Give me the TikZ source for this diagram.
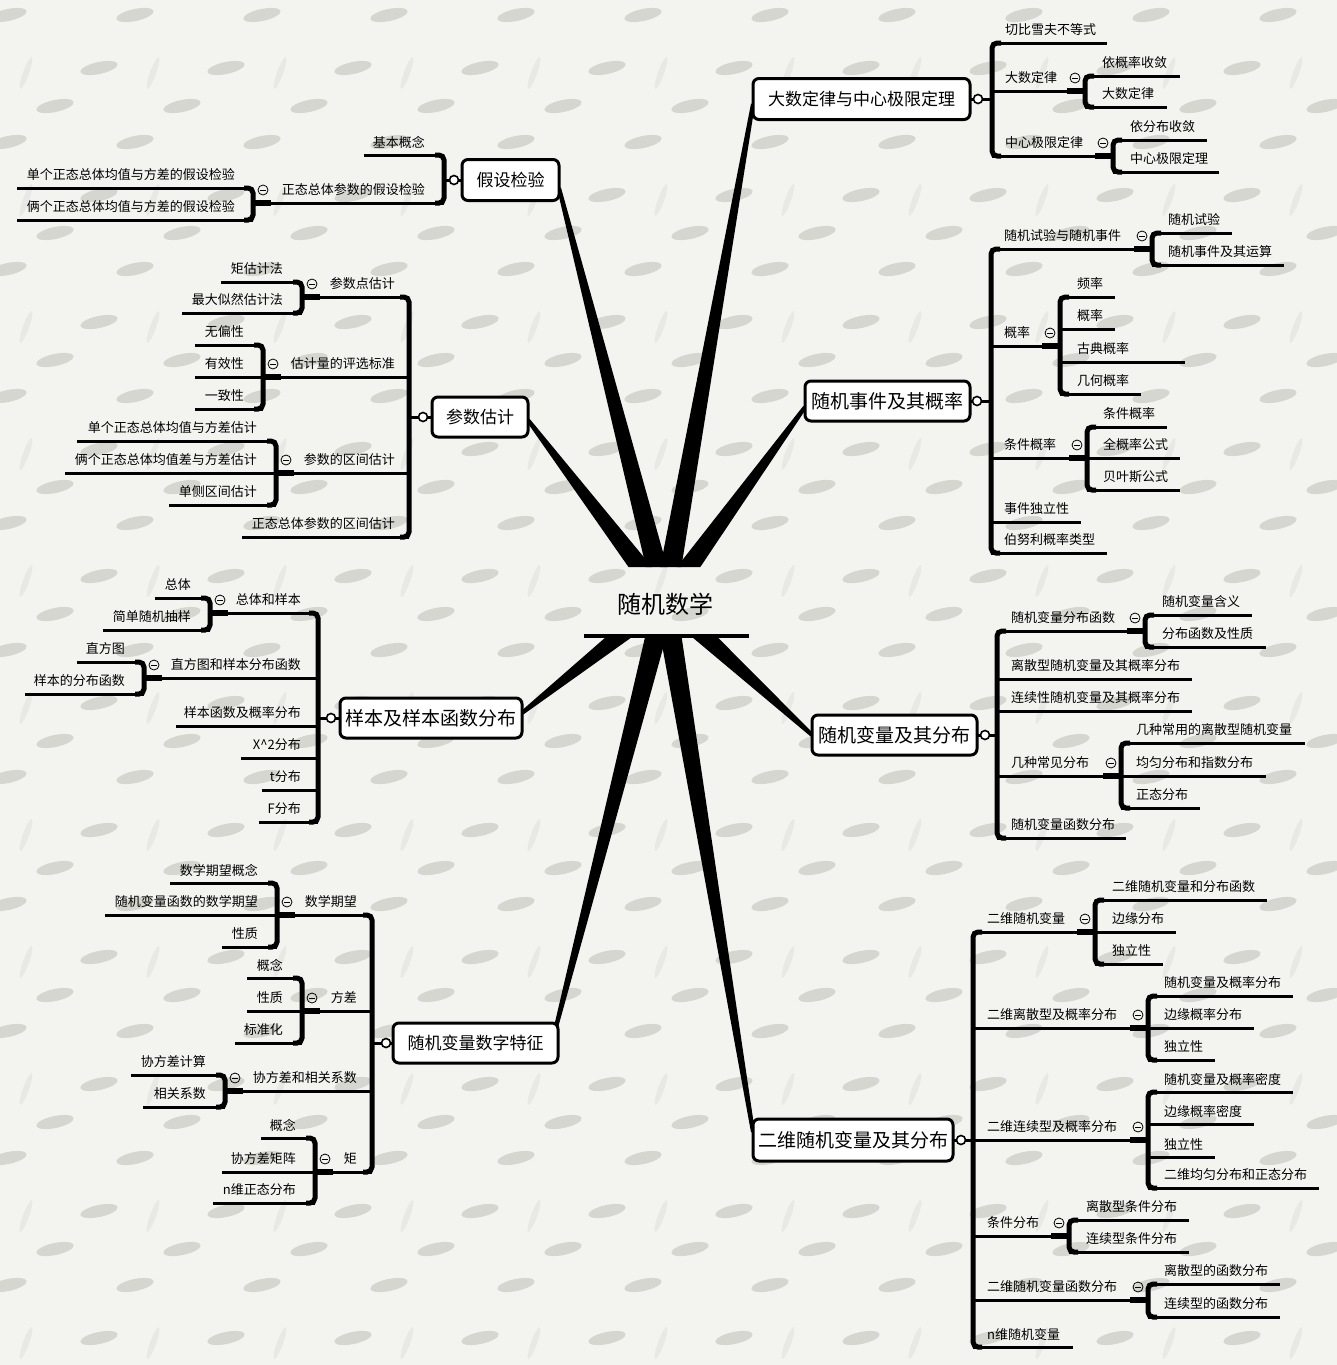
\documentclass[tikz,border=0pt]{standalone}
\usepackage{fontspec}
\setmainfont{Noto Sans CJK SC}
\usetikzlibrary{calc}
\definecolor{bg}{RGB}{243,243,240}
\definecolor{pat}{RGB}{214,214,208}
\definecolor{patb}{RGB}{232,232,228}
\tikzset{
  ln/.style={line width=3pt},
  brk/.style={line width=5pt, rounded corners=5pt},
  stb/.style={line width=6pt},
  lbl/.style={inner sep=0pt, font=\fontsize{13}{13}\selectfont},
  mainbox/.style={draw, line width=3pt, rounded corners=6pt, fill=white, inner sep=0pt},
  mcirc/.style={circle, draw, line width=1.6pt, fill=white, minimum size=9pt, inner sep=0pt},
  foldc/.style={circle, draw, line width=0.8pt, minimum size=10pt, inner sep=0pt,
    path picture={\draw[line width=0.8pt] ([xshift=-2.6pt]path picture bounding box.center) -- ([xshift=2.6pt]path picture bounding box.center);}},
}
% right-hand topic: name, bracket x, text offset, line y, line end, text
\newcommand\ri[6]{\draw[ln] (#2,#4) -- (#5,#4); \node[lbl,anchor=west] (#1) at (#2+#3,#4-13) {#6};}
% left-hand topic: name, bracket x, text offset, line y, line start, text
\newcommand\li[6]{\draw[ln] (#5,#4) -- (#2,#4); \node[lbl,anchor=east] (#1) at (#2-#3,#4-13) {#6};}
% brackets joining sibling topics
\newcommand\rbr[3]{\draw[brk] (#1+9,#2) -- (#1,#2) -- (#1,#3) -- (#1+9,#3);}
\newcommand\lbr[3]{\draw[brk] (#1-9,#2) -- (#1,#2) -- (#1,#3) -- (#1-9,#3);}
% stub and fold marker in front of a sub-bracket
\newcommand\rsub[3]{\draw[stb] (#2-18,#3) -- (#2,#3); \node[foldc] (#1) at (#2-10,#3-13) {};}
\newcommand\lsub[3]{\draw[stb] (#2+18,#3) -- (#2,#3); \node[foldc] (#1) at (#2+10,#3-13) {};}
% tapered spoke from the hub to a main topic
\newcommand\spoke[1]{\fill ($(O)!11pt!90:(#1)$) -- ($(#1)!2pt!-90:(O)$) -- ($(#1)!2pt!90:(O)$) -- ($(O)!11pt!-90:(#1)$) -- cycle;}
\begin{document}
\begin{tikzpicture}[x=1pt,y=-1pt]
\useasboundingbox (0,0) rectangle (1337,1365);
\fill[bg] (0,0) rectangle (1337,1365);
% paper texture
\foreach \i in {0,...,10} {
  \foreach \j in {0,...,10} {
    \fill[patb, rotate around={70:(127*\i+26,127*\j+73)}] (127*\i+26,127*\j+73) ellipse (17pt and 3pt);
    \fill[pat, rotate around={12:(127*\i+8,127*\j+15)}] (127*\i+8,127*\j+15) ellipse (19pt and 6pt);
    \fill[pat, rotate around={12:(127*\i+99,127*\j+68)}] (127*\i+99,127*\j+68) ellipse (19pt and 6pt);
    \fill[pat, rotate around={12:(127*\i+55,127*\j+106)}] (127*\i+55,127*\j+106) ellipse (19pt and 6pt);
  }
}
% main topics
\node[mainbox, minimum width=214pt, minimum height=38pt, font=\fontsize{17}{17}\selectfont] (m1) at (861.5,99) {大数定律与中心极限定理};
\node[mainbox, minimum width=94pt, minimum height=38pt, font=\fontsize{17}{17}\selectfont] (m2) at (510.5,180) {假设检验};
\node[mainbox, minimum width=93pt, minimum height=37pt, font=\fontsize{17}{17}\selectfont] (m3) at (480,417) {参数估计};
\node[mainbox, minimum width=162pt, minimum height=37pt, font=\fontsize{19}{19}\selectfont] (m4) at (887.5,401) {随机事件及其概率};
\node[mainbox, minimum width=179pt, minimum height=37pt, font=\fontsize{19}{19}\selectfont] (m5) at (431,718) {样本及样本函数分布};
\node[mainbox, minimum width=162pt, minimum height=37pt, font=\fontsize{19}{19}\selectfont] (m6) at (894.5,735) {随机变量及其分布};
\node[mainbox, minimum width=162pt, minimum height=37pt, font=\fontsize{17}{17}\selectfont] (m7) at (475.5,1043) {随机变量数字特征};
\node[mainbox, minimum width=197pt, minimum height=39pt, font=\fontsize{19}{19}\selectfont] (m8) at (853,1140) {二维随机变量及其分布};
% hub
\coordinate (O) at (665,600);
\coordinate (t1) at ([yshift=-5pt]m1.west);
\coordinate (t2) at ([yshift=-8pt]m2.east);
\coordinate (t3) at ([yshift=-3pt]m3.east);
\coordinate (t4) at ([yshift=-6pt]m4.west);
\coordinate (t5) at ([yshift=5pt]m5.east);
\coordinate (t6) at (m6.west);
\coordinate (t7) at ([xshift=-3pt,yshift=12pt]m7.east);
\coordinate (t8) at ([yshift=8pt]m8.west);
\begin{scope}
  \clip (0,0) rectangle (1337,567) (0,636) rectangle (1337,1365)
        (0,567) rectangle (584,636) (750,567) rectangle (1337,636);
  \foreach \t in {t1,t2,t3,t4,t5,t6,t7,t8} {\spoke{\t}}
\end{scope}
\node[font=\fontsize{24}{24}\selectfont, inner sep=0pt] (c) at (665,604) {随机数学};
\draw[line width=4pt] (584,636) -- (749,636);
% redraw boxes over the spoke ends
\foreach \m in {m1,m2,m3,m4,m5,m6,m7,m8} {\draw[line width=3pt, rounded corners=6pt, fill=white] (\m.south west) rectangle (\m.north east);}
\node[font=\fontsize{17}{17}\selectfont, inner sep=0pt] at (m1) {大数定律与中心极限定理};
\node[font=\fontsize{17}{17}\selectfont, inner sep=0pt] at (m2) {假设检验};
\node[font=\fontsize{17}{17}\selectfont, inner sep=0pt] at (m3) {参数估计};
\node[font=\fontsize{19}{19}\selectfont, inner sep=0pt] at (m4) {随机事件及其概率};
\node[font=\fontsize{19}{19}\selectfont, inner sep=0pt] at (m5) {样本及样本函数分布};
\node[font=\fontsize{19}{19}\selectfont, inner sep=0pt] at (m6) {随机变量及其分布};
\node[font=\fontsize{17}{17}\selectfont, inner sep=0pt] at (m7) {随机变量数字特征};
\node[font=\fontsize{19}{19}\selectfont, inner sep=0pt] at (m8) {二维随机变量及其分布};
% joints between main topics and their brackets
\draw[ln] (m1.east) -- (992,99);   \node[mcirc] (k1) at (978,99) {};
\draw[ln] (m2.west) -- (444,180);  \node[mcirc] (k2) at (454,180) {};
\draw[ln] (m3.west) -- (409,417);  \node[mcirc] (k3) at (423,417) {};
\draw[ln] (m4.east) -- (991,401);  \node[mcirc] (k4) at (977,401) {};
\draw[ln] (m5.west) -- (318,718);  \node[mcirc] (k5) at (331,718) {};
\draw[ln] (m6.east) -- (997,735);  \node[mcirc] (k6) at (985,735) {};
\draw[ln] (m7.west) -- (372,1043); \node[mcirc] (k7) at (386,1043) {};
\draw[ln] (m8.east) -- (973,1140); \node[mcirc] (k8) at (961,1140) {};

% ---- 大数定律与中心极限定理
\rbr{992}{43}{156}
\ri{a1}{992}{13}{43}{1107}{切比雪夫不等式}
\ri{a2}{992}{13}{91}{1067}{大数定律}
\rsub{fa2}{1085}{91}
\rbr{1085}{76}{107}
\ri{a21}{1085}{17}{76}{1180}{依概率收敛}
\ri{a22}{1085}{17}{107}{1167}{大数定律}
\ri{a3}{992}{13}{156}{1095}{中心极限定律}
\rsub{fa3}{1113}{156}
\rbr{1113}{140}{172}
\ri{a31}{1113}{17}{140}{1207}{依分布收敛}
\ri{a32}{1113}{17}{172}{1219}{中心极限定理}

% ---- 随机事件及其概率
\rbr{991}{249}{553}
\ri{b1}{991}{13}{249}{1134}{随机试验与随机事件}
\rsub{fb1}{1152}{249}
\rbr{1152}{233}{265}
\ri{b11}{1152}{16}{233}{1232}{随机试验}
\ri{b12}{1152}{16}{265}{1284}{随机事件及其运算}
\ri{b2}{991}{13}{346}{1042}{概率}
\rsub{fb2}{1060}{346}
\rbr{1060}{297}{394}
\ri{b21}{1060}{17}{297}{1115}{频率}
\ri{b22}{1060}{17}{329}{1115}{概率}
\ri{b23}{1060}{17}{362}{1185}{古典概率}
\ri{b24}{1060}{17}{394}{1141}{几何概率}
\ri{b3}{991}{13}{458}{1069}{条件概率}
\rsub{fb3}{1087}{458}
\rbr{1087}{427}{490}
\ri{b31}{1087}{16}{427}{1167}{条件概率}
\ri{b32}{1087}{16}{458}{1180}{全概率公式}
\ri{b33}{1087}{16}{490}{1180}{贝叶斯公式}
\ri{b4}{991}{13}{522}{1081}{事件独立性}
\ri{b5}{991}{13}{553}{1107}{伯努利概率类型}

% ---- 随机变量及其分布
\rbr{997}{631}{838}
\ri{c1}{997}{14}{631}{1127}{随机变量分布函数}
\rsub{fc1}{1145}{631}
\rbr{1145}{615}{647}
\ri{c11}{1145}{17}{615}{1252}{随机变量含义}
\ri{c12}{1145}{17}{647}{1266}{分布函数及性质}
\ri{c2}{997}{14}{679}{1192}{离散型随机变量及其概率分布}
\ri{c3}{997}{14}{711}{1192}{连续性随机变量及其概率分布}
\ri{c4}{997}{14}{776}{1103}{几种常见分布}
\rsub{fc4}{1121}{776}
\rbr{1121}{743}{808}
\ri{c41}{1121}{15}{743}{1305}{几种常用的离散型随机变量}
\ri{c42}{1121}{15}{776}{1266}{均匀分布和指数分布}
\ri{c43}{1121}{15}{808}{1200}{正态分布}
\ri{c5}{997}{14}{838}{1126}{随机变量函数分布}

% ---- 二维随机变量及其分布
\rbr{973}{932}{1347}
\ri{d1}{973}{14}{932}{1077}{二维随机变量}
\rsub{fd1}{1095}{932}
\rbr{1095}{900}{964}
\ri{d11}{1095}{17}{900}{1267}{二维随机变量和分布函数}
\ri{d12}{1095}{17}{932}{1176}{边缘分布}
\ri{d13}{1095}{17}{964}{1163}{独立性}
\ri{d2}{973}{14}{1028}{1130}{二维离散型及概率分布}
\rsub{fd2}{1148}{1028}
\rbr{1148}{996}{1060}
\ri{d21}{1148}{16}{996}{1293}{随机变量及概率分布}
\ri{d22}{1148}{16}{1028}{1254}{边缘概率分布}
\ri{d23}{1148}{16}{1060}{1215}{独立性}
\ri{d3}{973}{14}{1140}{1130}{二维连续型及概率分布}
\rsub{fd3}{1148}{1140}
\rbr{1148}{1092}{1188}
\ri{d31}{1148}{16}{1092}{1293}{随机变量及概率密度}
\ri{d32}{1148}{16}{1124}{1254}{边缘概率密度}
\ri{d33}{1148}{16}{1157}{1215}{独立性}
\ri{d34}{1148}{16}{1188}{1319}{二维均匀分布和正态分布}
\ri{d4}{973}{14}{1236}{1051}{条件分布}
\rsub{fd4}{1069}{1236}
\rbr{1069}{1220}{1252}
\ri{d41}{1069}{17}{1220}{1189}{离散型条件分布}
\ri{d42}{1069}{17}{1252}{1189}{连续型条件分布}
\ri{d5}{973}{14}{1300}{1130}{二维随机变量函数分布}
\rsub{fd5}{1148}{1300}
\rbr{1148}{1284}{1317}
\ri{d51}{1148}{16}{1284}{1280}{离散型的函数分布}
\ri{d52}{1148}{16}{1317}{1280}{连续型的函数分布}
\ri{d6}{973}{14}{1347}{1073}{n维随机变量}

% ---- 假设检验
\lbr{444}{155}{203}
\li{e1}{444}{19}{155}{364}{基本概念}
\li{e2}{444}{19}{203}{271}{正态总体参数的假设检验}
\lsub{fe2}{253}{203}
\lbr{253}{188}{220}
\li{e21}{253}{18}{188}{17}{单个正态总体均值与方差的假设检验}
\li{e22}{253}{18}{220}{17}{俩个正态总体均值与方差的假设检验}

% ---- 参数估计
\lbr{409}{297}{537}
\li{f1}{409}{14}{297}{320}{参数点估计}
\lsub{ff1}{302}{297}
\lbr{302}{282}{313}
\li{f11}{302}{19}{282}{221}{矩估计法}
\li{f12}{302}{19}{313}{182}{最大似然估计法}
\li{f2}{409}{14}{377}{281}{估计量的评选标准}
\lsub{ff2}{263}{377}
\lbr{263}{345}{409}
\li{f21}{263}{19}{345}{195}{无偏性}
\li{f22}{263}{19}{377}{195}{有效性}
\li{f23}{263}{19}{409}{195}{一致性}
\li{f3}{409}{14}{473}{294}{参数的区间估计}
\lsub{ff3}{276}{473}
\lbr{276}{441}{505}
\li{f31}{276}{19}{441}{77}{单个正态总体均值与方差估计}
\li{f32}{276}{19}{473}{65}{俩个正态总体均值差与方差估计}
\li{f33}{276}{19}{505}{169}{单侧区间估计}
\li{f4}{409}{14}{537}{242}{正态总体参数的区间估计}

% ---- 样本及样本函数分布
\lbr{318}{613}{822}
\li{g1}{318}{17}{613}{227}{总体和样本}
\lsub{fg1}{210}{613}
\lbr{210}{598}{630}
\li{g11}{210}{19}{598}{155}{总体}
\li{g12}{210}{19}{630}{103}{简单随机抽样}
\li{g2}{318}{17}{678}{162}{直方图和样本分布函数}
\lsub{fg2}{144}{678}
\lbr{144}{662}{694}
\li{g21}{144}{19}{662}{77}{直方图}
\li{g22}{144}{19}{694}{25}{样本的分布函数}
\li{g3}{318}{17}{726}{176}{样本函数及概率分布}
\li{g4}{318}{17}{758}{241}{X\textasciicircum 2分布}
\li{g5}{318}{17}{790}{262}{t分布}
\li{g6}{318}{17}{822}{259}{F分布}

% ---- 随机变量数字特征
\lbr{372}{915}{1172}
\li{h1}{372}{15}{915}{295}{数学期望}
\lsub{fh1}{277}{915}
\lbr{277}{883}{947}
\li{h11}{277}{19}{883}{170}{数学期望概念}
\li{h12}{277}{19}{915}{105}{随机变量函数的数学期望}
\li{h13}{277}{19}{947}{222}{性质}
\li{h2}{372}{15}{1011}{320}{方差}
\lsub{fh2}{302}{1011}
\lbr{302}{978}{1043}
\li{h21}{302}{19}{978}{247}{概念}
\li{h22}{302}{19}{1011}{247}{性质}
\li{h23}{302}{19}{1043}{235}{标准化}
\li{h3}{372}{15}{1091}{242}{协方差和相关系数}
\lsub{fh3}{225}{1091}
\lbr{225}{1075}{1107}
\li{h31}{225}{19}{1075}{131}{协方差计算}
\li{h32}{225}{19}{1107}{143}{相关系数}
\li{h4}{372}{15}{1172}{333}{矩}
\lsub{fh4}{315}{1172}
\lbr{315}{1138}{1203}
\li{h41}{315}{19}{1138}{261}{概念}
\li{h42}{315}{19}{1172}{222}{协方差矩阵}
\li{h43}{315}{19}{1203}{213}{n维正态分布}
\end{tikzpicture}
\end{document}
